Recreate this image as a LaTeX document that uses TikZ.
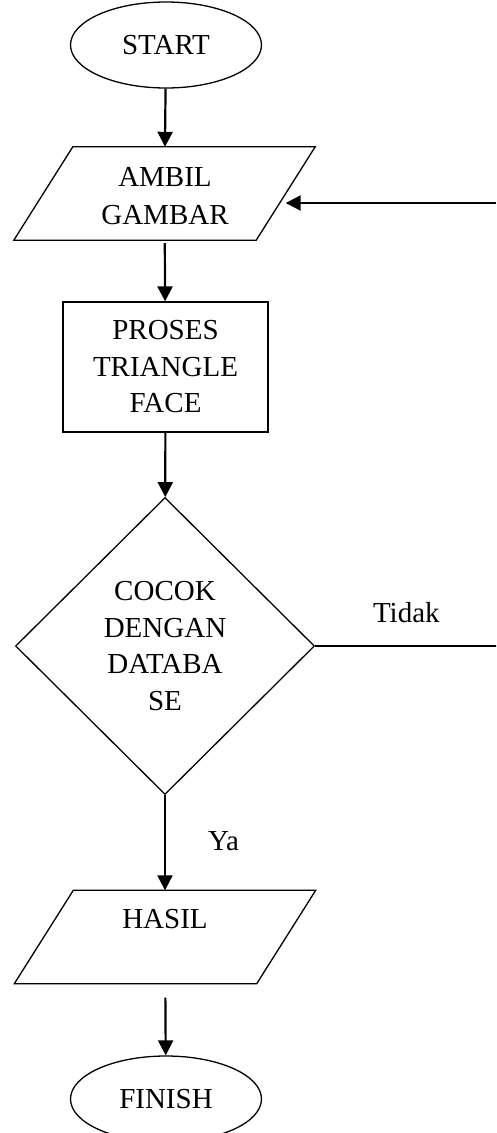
\documentclass[tikz,border=0pt]{standalone}
\usepackage{fontspec}
\setmainfont{Liberation Serif}
\usetikzlibrary{shapes.geometric,arrows.meta}
\begin{document}
\begin{tikzpicture}[x=1pt,y=-1pt,
  txt/.style={font=\fontsize{29}{36.5}\selectfont,align=center,inner sep=0pt},
  outline/.style={draw=black,line width=1.3pt},
  base/.style={txt,outline},
  terminal/.style={base,ellipse,minimum width=191pt,minimum height=86pt},
  % frame for an input/output parallelogram; the slanted outline is drawn afterwards
  ioframe/.style={rectangle,inner sep=0pt,minimum width=301pt,minimum height=93pt},
  procbox/.style={base,rectangle,minimum width=205pt,minimum height=130pt},
  decide/.style={base,diamond,minimum width=299pt,minimum height=297pt},
  lbl/.style={font=\fontsize{29}{36}\selectfont,inner sep=0pt},
  flow/.style={line width=2.2pt,-{Triangle[length=15pt,width=15pt]}},
  plain/.style={line width=1.6pt}]
\useasboundingbox (0,0) rectangle (496,1133);
\clip (0,0) rectangle (496,1133);

\node[terminal] (start) at (166,45) {START};

\node[ioframe] (ambil) at (164.5,193.5) {};
\draw[outline] ([xshift=59pt]ambil.north west) -- (ambil.north east)
  -- ([xshift=-59pt]ambil.south east) -- (ambil.south west) -- cycle;
\node[txt] (ambiltxt) at (165,196) {AMBIL\\[1.5pt]GAMBAR};

\node[procbox] (proses) at (165.5,367) {PROSES\\TRIANGLE\\FACE};
\node[decide] (cocok) at (165,646) {COCOK\\DENGAN\\DATABA\\SE};

\node[ioframe] (hasil) at (165,937) {};
\draw[outline] ([xshift=59pt]hasil.north west) -- (hasil.north east)
  -- ([xshift=-59pt]hasil.south east) -- (hasil.south west) -- cycle;
\node[txt] (hasiltxt) at (165,919) {HASIL};

\node[terminal] (finish) at (166,1099) {FINISH};

\coordinate (ambilright) at ([xshift=-29.5pt]ambil.east);
\coordinate (tidakend) at ([xshift=190pt]cocok.east);
\coordinate (backin) at (496,203);

\draw[flow] (start) -- (ambil);
\draw[flow,shorten <=3pt] (ambil) -- (proses);
\draw[flow] (proses) -- (cocok);
\draw[flow] (cocok) -- node[lbl,right=42pt,pos=0.48] {Ya} (hasil);
\draw[flow,shorten <=14pt] (hasil) -- (finish);
\draw[plain] (cocok.east) -- node[lbl,above=22pt,pos=0.48] {Tidak} (tidakend);
\draw[flow] (backin) -- (backin -| ambilright);
\end{tikzpicture}
\end{document}
